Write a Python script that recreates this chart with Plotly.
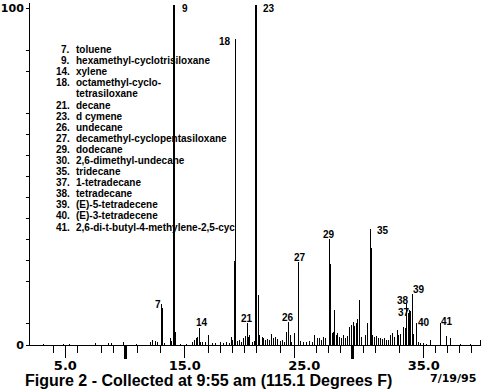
import plotly.graph_objects as go

# ---- chromatogram data: retention time (min) and relative abundance (%) ----
peak_times = [13.02, 13.10, 14.05, 14.13, 14.21, 16.09, 16.21, 16.95, 19.14, 19.22,
              20.22, 20.96, 21.04, 21.13, 23.68, 24.51, 27.13, 27.21, 27.54, 29.62,
              30.53, 30.61, 33.58, 33.72, 33.80, 33.91, 34.05, 34.18, 34.38, 36.45]
peak_heights = [12.1, 10.9, 100.9, 100.9, 3.9, 2.5, 4.9, 2.9, 25.0, 90.7,
                6.4, 100.9, 100.9, 14.7, 6.9, 24.5, 31.4, 24.0, 10.3, 13.4,
                34.3, 28.9, 12.3, 9.5, 10.3, 10.0, 15.2, 3.4, 6.4, 6.4]

noise_times = [3.20, 4.86, 5.36, 7.52, 8.60, 8.84, 9.84, 10.92, 12.16, 12.33, 12.58, 12.75,
               13.33, 13.82, 13.91, 14.65, 15.15, 15.65, 15.82, 15.98, 16.31, 16.48, 16.73,
               17.31, 17.56, 17.97, 18.22, 18.47, 18.72, 18.89, 18.97, 19.38, 19.55, 19.72,
               19.94, 20.07, 20.30, 20.42, 20.63, 20.80, 21.29, 21.38, 21.52, 21.63, 21.79,
               21.96, 22.12, 22.23, 22.45, 22.62, 22.79, 23.04, 23.20, 23.37, 23.53, 23.81,
               23.95, 24.17, 24.70, 24.94, 25.19, 25.44, 25.69, 25.88, 26.11, 26.27, 26.44,
               26.60, 26.77, 26.99, 27.33, 27.43, 27.68, 27.82, 27.96, 28.10, 28.26, 28.43,
               28.60, 28.79, 28.93, 29.09, 29.22, 29.34, 29.48, 29.76, 29.92, 30.09, 30.26,
               30.75, 30.92, 31.09, 31.25, 31.42, 31.58, 31.75, 31.92, 32.08, 32.25, 32.41,
               32.58, 32.80, 32.91, 33.08, 33.35, 33.49, 34.57, 34.74, 34.99, 35.24, 35.57,
               36.95, 37.28, 38.06, 38.89, 39.72]
noise_heights = [0.4, 0.3, 0.3, 0.6, 0.5, 0.6, 1.0, 0.4, 0.8, 1.5, 1.2, 0.8,
                 0.5, 2.0, 1.2, 0.4, 0.4, 1.0, 1.5, 2.0, 1.0, 0.8, 0.8,
                 0.6, 0.5, 1.0, 0.7, 0.8, 0.5, 2.5, 1.5, 1.2, 1.5, 1.0,
                 2.0, 2.8, 2.5, 3.0, 1.0, 1.2, 3.0, 3.5, 2.5, 2.0, 1.5,
                 1.8, 1.5, 3.4, 2.0, 2.5, 1.8, 1.2, 1.5, 1.0, 3.9, 2.9,
                 1.0, 3.6, 1.2, 0.8, 1.0, 1.3, 1.0, 2.9, 2.0, 2.2, 1.5,
                 2.5, 2.0, 3.4, 3.5, 4.0, 3.0, 3.5, 2.5, 2.0, 3.0, 2.2,
                 2.8, 5.4, 6.0, 6.9, 5.5, 6.5, 7.8, 2.5, 2.0, 3.0, 6.5,
                 3.0, 2.5, 2.8, 2.0, 2.2, 1.8, 2.0, 1.5, 1.5, 3.0, 3.5,
                 2.5, 4.4, 3.0, 3.4, 5.4, 5.0, 0.8, 0.5, 0.6, 0.4, 1.5,
                 2.6, 2.2, 0.3, 0.3, 1.5]

# peak labels
peak_labels = ["7", "9", "14", "18", "21", "23", "26", "27", "29", "35", "38", "37", "39", "40", "41"]

# compound list
compound_numbers = ["7.", "9.", "14.", "18.", "", "21.", "23.", "26.", "27.", "29.", "30.",
                    "35.", "37.", "38.", "39.", "40.", "41."]
compound_names = ["toluene", "hexamethyl-cyclotrisiloxane", "xylene", "octamethyl-cyclo-",
                  "tetrasiloxane", "decane", "d cymene", "undecane",
                  "decamethyl-cyclopentasiloxane", "dodecane", "2,6-dimethyl-undecane",
                  "tridecane", "1-tetradecane", "tetradecane", "(E)-5-tetradecene",
                  "(E)-3-tetradecene", "2,6-di-t-butyl-4-methylene-2,5-cyc"]

# axes ticks
x_tick_short = [4, 6, 8, 9, 11, 13, 17, 18, 19, 20, 21, 23, 26, 27, 28, 30, 31, 33, 36, 37, 38, 39]
x_tick_long = [5, 15, 24.2, 35]
x_tick_thick = [10, 29]
x_label_vals = [5, 15, 25, 35]
x_label_text = ["5.0", "15.0", "25.0", "35.0"]
y_tick_vals = [0, 6.25, 18.75, 25, 31.25, 37.5, 43.75, 50, 56.25, 62.5, 68.75, 81.25, 87.5, 100]
y_tick_text = ["0"] + [""] * 12 + ["100"]

title_text = "Figure 2 - Collected at 9:55 am (115.1 Degrees F)"
date_text = "7/19/95"

# ---- layout geometry (pixels) ----
W, H = 482, 392
ML, MR, MT, MB = 26, 1, 3, 47
PW, PH = W - ML - MR, H - MT - MB
X_RANGE = [2.04, 39.80]
Y_RANGE = [0, 101.5]


def px(x):
    return (x - ML) / PW


def py(y):
    return (H - MB - y) / PH


BOLD = dict(family="Liberation Sans, Arial, sans-serif", weight="bold", color="black")
DJ = dict(family="DejaVu Sans, sans-serif", weight="bold", color="black")
INK = "rgba(0,0,0,0.995)"

fig = go.Figure()
fig.add_trace(go.Bar(x=noise_times, y=noise_heights, width=0.083,
                     marker=dict(color=INK, line=dict(width=0)), showlegend=False))
fig.add_trace(go.Bar(x=peak_times, y=peak_heights, width=0.083,
                     marker=dict(color=INK, line=dict(width=0)), showlegend=False))
fig.add_trace(go.Scatter(x=[], y=[], xaxis="x2", showlegend=False))
fig.add_trace(go.Scatter(x=[], y=[], xaxis="x3", showlegend=False))

annotations = []
# peak label positions (pixel centres)
peak_label_pos = [(155, 304), (182.5, 8.5), (200, 322), (223, 41.5), (245, 318), (267, 8.5),
                  (286, 317), (298, 257), (328, 234), (382, 230), (402, 300), (403, 312),
                  (418, 289), (423, 322), (447, 321)]
for txt, (lx, ly) in zip(peak_labels, peak_label_pos):
    annotations.append(dict(text=txt, x=px(lx), y=py(ly), xref="paper", yref="paper",
                            xanchor="center", yanchor="middle", showarrow=False,
                            font=dict(size=10, **BOLD)))

row0, row_step = 49.5, 11.1
for i, (num, name) in enumerate(zip(compound_numbers, compound_names)):
    ry = row0 + i * row_step
    if num:
        annotations.append(dict(text=num, x=px(68), y=py(ry), xref="paper", yref="paper",
                                xanchor="right", yanchor="middle", showarrow=False,
                                font=dict(size=10, **BOLD)))
    annotations.append(dict(text=name, x=px(70.5), y=py(ry), xref="paper", yref="paper",
                            xanchor="left", yanchor="middle", showarrow=False,
                            font=dict(size=10, **BOLD)))

annotations.append(dict(text=title_text, x=px(19), y=py(381), xref="paper", yref="paper",
                        xanchor="left", yanchor="middle", showarrow=False,
                        font=dict(size=16, **BOLD)))
annotations.append(dict(text=date_text, x=px(478), y=py(378.5), xref="paper", yref="paper",
                        xanchor="right", yanchor="middle", showarrow=False,
                        font=dict(size=11, **DJ)))

fig.update_layout(
    width=W, height=H,
    margin=dict(l=ML, r=MR, t=MT, b=MB, pad=0),
    paper_bgcolor="white", plot_bgcolor="white",
    barmode="overlay", bargap=0, bargroupgap=0,
    showlegend=False,
    annotations=annotations,
    xaxis=dict(range=X_RANGE, showline=True, linecolor="black", linewidth=1,
               ticks="outside", tickmode="array", tickvals=x_tick_long, ticklen=12,
               tickwidth=1, tickcolor="black", showticklabels=False,
               showgrid=False, zeroline=False, fixedrange=True,
               minor=dict(tickmode="array", tickvals=x_tick_short, ticks="outside",
                          ticklen=7, tickwidth=1, tickcolor="black", showgrid=False)),
    xaxis2=dict(range=X_RANGE, overlaying="x", anchor="y", side="bottom",
                showline=False, ticks="outside", tickmode="array", tickvals=x_label_vals,
                ticktext=x_label_text, ticklen=8, tickcolor="rgba(0,0,0,0)",
                tickfont=dict(size=13, **DJ), showgrid=False, zeroline=False, fixedrange=True),
    xaxis3=dict(range=X_RANGE, overlaying="x", anchor="y", side="bottom",
                showline=False, ticks="outside", tickmode="array", tickvals=x_tick_thick,
                ticklen=13, tickwidth=3, tickcolor="black", showticklabels=False,
                showgrid=False, zeroline=False, fixedrange=True),
    yaxis=dict(range=Y_RANGE, showline=True, linecolor="black", linewidth=1,
               ticks="outside", tickmode="array", tickvals=y_tick_vals, ticktext=y_tick_text,
               ticklen=3, tickwidth=1, tickcolor="black", tickfont=dict(size=11, **DJ),
               showgrid=False, zeroline=False, fixedrange=True),
)

fig.write_html("out.html", config={"displayModeBar": False},
               post_script="document.body.style.margin='0';")
